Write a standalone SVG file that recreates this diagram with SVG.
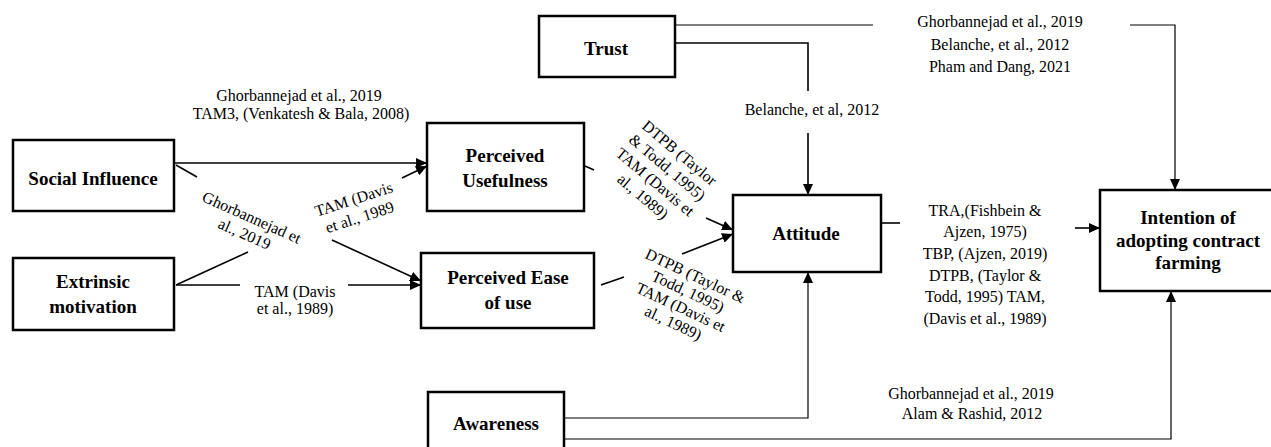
<svg xmlns="http://www.w3.org/2000/svg" width="1271" height="447" viewBox="0 0 1271 447">
<style>
.box{fill:#fff;stroke:#000;stroke-width:2.5}
.bl{font-family:"Liberation Serif","Times New Roman",serif;font-weight:bold;font-size:19px;fill:#000;text-anchor:middle}
.lb{font-family:"Liberation Serif","Times New Roman",serif;font-size:16px;fill:#000;text-anchor:middle}
.ln{fill:none;stroke:#000;stroke-width:1.6}
.thin{fill:none;stroke:#000;stroke-width:1.2}
</style>
<defs>
<marker id="ah" markerUnits="userSpaceOnUse" markerWidth="12" markerHeight="10" refX="11" refY="5" orient="auto">
<path d="M0,0 L11,5 L0,10 z" fill="#000"/>
</marker>
</defs>
<rect width="1271" height="447" fill="#fff"/>
<g id="connectors">
<path class="ln" d="M174,163 H427" marker-end="url(#ah)"/>
<path class="ln" d="M176,285 L248,252"/>
<path class="ln" d="M402,178 L427,166" marker-end="url(#ah)"/>
<path class="ln" d="M176,165 L197,177"/>
<path class="ln" d="M332,240 L421,281" marker-end="url(#ah)"/>
<path class="ln" d="M176,285 H240"/>
<path class="ln" d="M348,285 H421" marker-end="url(#ah)"/>
<path class="ln" d="M585,166 L594,170"/>
<path class="ln" d="M706,218 L733,230" marker-end="url(#ah)"/>
<path class="ln" d="M601,285 L624,277"/>
<path class="ln" d="M682,254 L733,234" marker-end="url(#ah)"/>
<path class="ln" d="M675,43 H808 V91"/>
<path class="ln" d="M808,133 V195" marker-end="url(#ah)"/>
<path class="thin" d="M675,25 H873"/>
<path class="thin" d="M1130,25 H1175 V190" marker-end="url(#ah)"/>
<path class="ln" d="M881,223 H900"/>
<path class="ln" d="M1075,228 H1100" marker-end="url(#ah)"/>
<path class="thin" d="M564,418 H808 V272" marker-end="url(#ah)"/>
<path class="thin" d="M564,439 H1171 V291" marker-end="url(#ah)"/>
</g>
<g id="labels">
<text class="lb" x="299" y="101" font-size="17.5">Ghorbannejad et al., 2019</text>
<text class="lb" x="301" y="119" font-size="14">TAM3, (Venkatesh &amp; Bala, 2008)</text>
<g transform="translate(248,226) rotate(24)">
<text class="lb" x="0" y="-4" font-size="15">Ghorbannejad et</text>
<text class="lb" x="0" y="14" font-size="15">al., 2019</text>
</g>
<g transform="translate(357,209) rotate(-18)">
<text class="lb" x="0" y="-5" font-size="14.5">TAM (Davis</text>
<text class="lb" x="0" y="14" font-size="14.5">et al., 1989</text>
</g>
<text class="lb" x="295" y="297" font-size="14.5">TAM (Davis</text>
<text class="lb" x="295" y="314" font-size="14.5">et al., 1989)</text>
<g transform="translate(661,175) rotate(40)">
<text class="lb" x="0" y="-23.5" font-size="14">DTPB (Taylor</text>
<text class="lb" x="0" y="-4.5" font-size="14">&amp; Todd, 1995)</text>
<text class="lb" x="0" y="14.5" font-size="14">TAM (Davis et</text>
<text class="lb" x="0" y="33.5" font-size="14">al., 1989)</text>
</g>
<g transform="translate(684,300) rotate(25)">
<text class="lb" x="0" y="-21.3" font-size="13">DTPB (Taylor &amp;</text>
<text class="lb" x="0" y="-4" font-size="13">Todd, 1995)</text>
<text class="lb" x="0" y="13.3" font-size="13">TAM (Davis et</text>
<text class="lb" x="0" y="30.6" font-size="13">al., 1989)</text>
</g>
<text class="lb" x="812" y="115" font-size="18">Belanche, et al, 2012</text>
<text class="lb" x="1000" y="27">Ghorbannejad et al., 2019</text>
<text class="lb" x="1000" y="50">Belanche, et al., 2012</text>
<text class="lb" x="1000" y="72">Pham and Dang, 2021</text>
<g font-size="16.5">
<text class="lb" x="985" y="215.5" font-size="16.5">TRA,(Fishbein &amp;</text>
<text class="lb" x="985" y="237" font-size="16.5">Ajzen, 1975)</text>
<text class="lb" x="985" y="258.5" font-size="16.5">TBP, (Ajzen, 2019)</text>
<text class="lb" x="985" y="280.5" font-size="16.5">DTPB, (Taylor &amp;</text>
<text class="lb" x="985" y="302" font-size="16.5">Todd, 1995) TAM,</text>
<text class="lb" x="985" y="323.5" font-size="16.5">(Davis et al., 1989)</text>
</g>
<text class="lb" x="971" y="399">Ghorbannejad et al., 2019</text>
<text class="lb" x="972" y="419">Alam &amp; Rashid, 2012</text>
</g>
<g id="social-influence">
<rect class="box" x="13" y="140" width="161" height="71"/>
<text class="bl" x="93" y="185">Social Influence</text>
</g>
<g id="extrinsic-motivation">
<rect class="box" x="13" y="258" width="161" height="72"/>
<text class="bl" x="93" y="288">Extrinsic</text>
<text class="bl" x="93" y="313">motivation</text>
</g>
<g id="perceived-usefulness">
<rect class="box" x="427" y="123" width="157" height="88"/>
<text class="bl" x="505" y="162">Perceived</text>
<text class="bl" x="505" y="187">Usefulness</text>
</g>
<g id="perceived-ease">
<rect class="box" x="421" y="253" width="173" height="75"/>
<text class="bl" x="508" y="284">Perceived Ease</text>
<text class="bl" x="508" y="309">of use</text>
</g>
<g id="trust">
<rect class="box" x="539" y="16" width="136" height="61"/>
<text class="bl" x="606" y="55">Trust</text>
</g>
<g id="attitude">
<rect class="box" x="733" y="195" width="148" height="77"/>
<text class="bl" x="806" y="240">Attitude</text>
</g>
<g id="intention">
<rect class="box" x="1100" y="190" width="180" height="101"/>
<text class="bl" x="1188" y="224" font-size="17.5">Intention of</text>
<text class="bl" x="1188" y="247" font-size="17.5">adopting contract</text>
<text class="bl" x="1188" y="269" font-size="17.5">farming</text>
</g>
<g id="awareness">
<rect class="box" x="428" y="392" width="136" height="70"/>
<text class="bl" x="496" y="430">Awareness</text>
</g>
</svg>
